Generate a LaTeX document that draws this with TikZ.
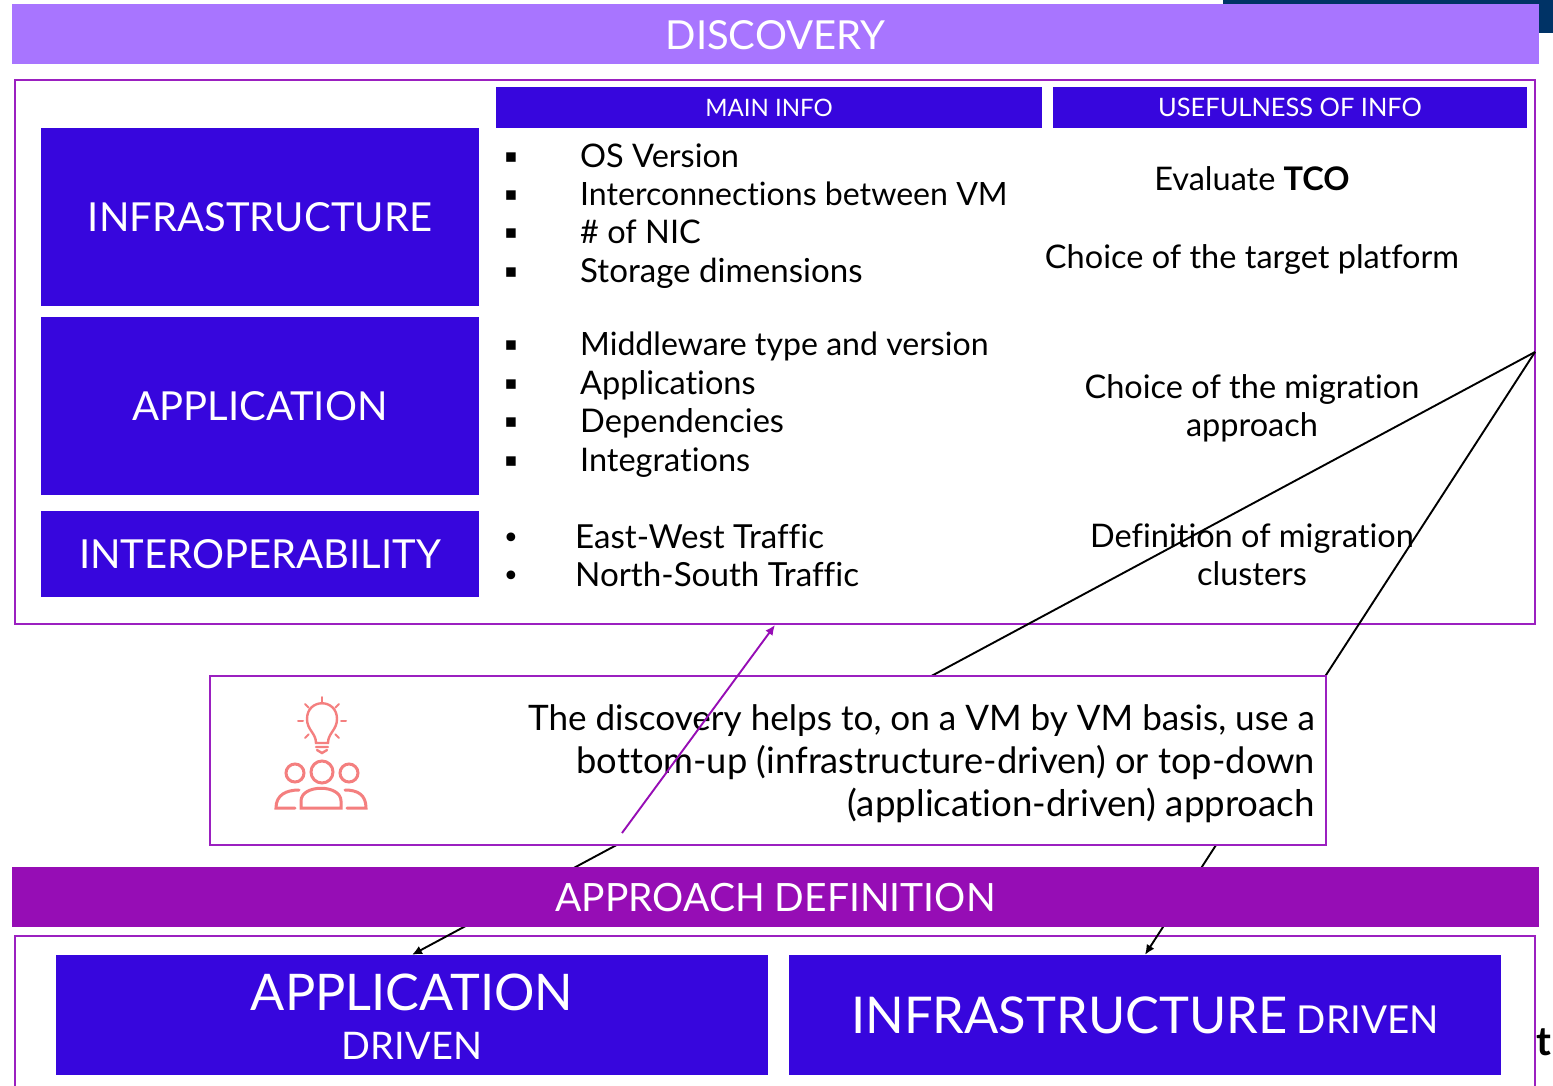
\documentclass[tikz,border=0pt]{standalone}
\usepackage{fontspec}
\usepackage{xcolor}
\usetikzlibrary{arrows.meta}
\setmainfont{Lato}[RawFeature={-liga;-dlig;-clig}]
\newfontfamily\symfont{DejaVu Sans}
\definecolor{barviolet}{HTML}{A875FF}
\definecolor{deepblue}{HTML}{3706DD}
\definecolor{barpurple}{HTML}{960DB5}
\definecolor{framepurple}{HTML}{9B20C0}
\definecolor{navy}{HTML}{003366}
\definecolor{salmon}{HTML}{F47F7F}
\newcommand{\px}[1]{\fontsize{#1}{#1}\selectfont}

\begin{document}
\begin{tikzpicture}[x=1pt, y=-1pt]
    \tikzstyle{bar} = [rectangle, inner sep=0pt, text=white]
    \tikzstyle{block} = [rectangle, fill=deepblue, inner sep=0pt, text=white, align=center]
    \tikzstyle{frame} = [rectangle, draw=framepurple, line width=2pt, inner sep=0pt]
    \tikzstyle{item} = [anchor=base west, inner sep=0pt]
    \tikzstyle{usage} = [anchor=base, inner sep=0pt, font=\px{32.5}]
    \tikzstyle{bullet} = [inner sep=0pt]
    \tikzstyle{icon} = [draw=salmon, line width=2.4pt, line cap=round]
    \tikzstyle{link} = [-{Latex[length=10pt,width=9pt]}, line width=1.9pt]

    \useasboundingbox (0,0) rectangle (1553,1085);
    \clip (0,0) rectangle (1553,1085);

    % header corner
    \node[rectangle, fill=navy, minimum width=330pt, minimum height=33pt, inner sep=0pt] (corner) at (1388,16.5) {};
    \node[bar, fill=barviolet, minimum width=1527pt, minimum height=60pt, font=\px{40}] (discovery) at (775.5,34) {};
    \node[inner sep=0pt, text=white, font=\px{40}] (discoveryword) at (775.5,35) {DISCOVERY};

    % discovery frame
    \node[frame, minimum width=1520pt, minimum height=544pt] (discoveryframe) at (775,352) {};
    \node[block, minimum width=546pt, minimum height=41pt, font=\px{24}] (maininfo) at (769,107.5) {MAIN INFO};
    \node[block, minimum width=474pt, minimum height=41pt, font=\px{25.4}] (usefulness) at (1290,107.5) {USEFULNESS OF INFO};
    \node[block, minimum width=438pt, minimum height=178pt, font=\px{40}] (infrastructure) at (260,217) {INFRASTRUCTURE};
    \node[block, minimum width=438pt, minimum height=178pt, font=\px{40}] (application) at (260,406) {APPLICATION};
    \node[block, minimum width=438pt, minimum height=86pt, font=\px{40}] (interoperability) at (260,554) {INTEROPERABILITY};

    % main info lists
    \foreach \y/\s/\t in {167/32.5/OS Version, 205/32.1/Interconnections between VM, 243/32.5/\# of NIC, 282/33.1/Storage dimensions,
                       355/32.1/Middleware type and version, 394/32.5/Applications, 432/32.6/Dependencies, 471/32.5/Integrations} {
        \node[bullet, font=\symfont\px{19}] (square\y) at (511,\y-9) {▪};
        \node[item, font=\px{\s}] (item\y) at (580,\y+0.5) {\t};
    }
    \foreach \y/\s/\t in {548/33.1/East-West Traffic, 586/33.2/North-South Traffic} {
        \node[bullet, font=\symfont\px{30}] (dot\y) at (511,\y-7) {•};
        \node[item, font=\px{\s}] (item\y) at (575,\y) {\t};
    }

    % usefulness
    \node[usage] (tco) at (1252,190) {Evaluate \textbf{TCO}};
    \node[usage] (platform) at (1252,268) {Choice of the target platform};
    \node[usage] (migration) at (1252,398) {Choice of the migration};
    \node[usage] (approach) at (1252,436) {approach};
    \node[usage] (definition) at (1252,547) {Definition of migration};
    \node[usage] (clusters) at (1252,585.5) {clusters};

    % approach section, bottom
    \draw[draw=framepurple, line width=2pt] (15,1095) |- (1535,936) -- (1535,1095);
    \node[block, minimum width=712pt, minimum height=120pt] (appdriven) at (412,1015) {};
    \node[inner sep=0pt, text=white, font=\px{50.5}] (appword) at (412,992) {APPLICATION};
    \node[inner sep=0pt, text=white, font=\px{38}] (appdrivenword) at (412,1046) {DRIVEN};
    \node[block, minimum width=712pt, minimum height=120pt] (infradriven) at (1145,1015) {};
    \node[inner sep=0pt, anchor=base west, text=white, font=\px{50.7}] (infraword) at (851,1033) {INFRASTRUCTURE};
    \node[inner sep=0pt, anchor=base east, text=white, font=\px{38.5}] (infradrivenword) at (1439,1033) {DRIVEN};
    \node[inner sep=0pt, font=\bfseries\px{40}] (strayt) at (1544,1042) {t};

    % connectors
    \coordinate (apex) at (1535,352);
    \draw[link] (apex) -- (appdriven.north);
    \draw[link] (apex) -- (infradriven.north);

    \node[bar, fill=barpurple, minimum width=1527pt, minimum height=60pt] (approachbar) at (775.5,897) {};
    \node[inner sep=0pt, text=white, font=\px{39}] (approachword) at (775.5,898) {APPROACH DEFINITION};

    % note
    \node[frame, fill=white, minimum width=1116pt, minimum height=169pt] (note) at (768,760) {};
    \node[inner sep=0pt, anchor=base east, font=\px{35.1}] (noteone) at (1315,730) {The discovery helps to, on a VM by VM basis, use a};
    \node[inner sep=0pt, anchor=base east, font=\px{36.3}] (notetwo) at (1315,773) {bottom-up (infrastructure-driven) or top-down};
    \node[inner sep=0pt, anchor=base east, font=\px{36.7}] (notethree) at (1315,816) {(application-driven) approach};

    % bulb and people
    \draw[icon] (316,743) .. controls (316,733) and (307,730) .. (307,719) .. controls (307,698) and (337,698) .. (337,719) .. controls (337,730) and (328,733) .. (328,743) -- cycle;
    \draw[icon] (316,747) -- (328,747) (317,750) -- (322,753) -- (327,750);
    \foreach \a in {0,45,135,180,225,315,270} {
        \draw[icon, line width=2pt] (322,721) ++(\a:19) -- ++(\a:5);
    }
    \draw[icon, line width=3pt] (295,773) circle (9) (322,772) circle (11) (349,773) circle (9);
    \draw[icon, line width=3pt] (301,808) -- (301,801) .. controls (301,784) and (341,784) .. (341,801) -- (341,808) -- cycle;
    \draw[icon, line width=3pt] (299,790) .. controls (286,790) and (276,795) .. (276,808) -- (295,808);
    \draw[icon, line width=3pt] (345,790) .. controls (358,790) and (366,795) .. (366,808) -- (347,808);

    % purple arrow
    \coordinate (notestart) at (622,833);
    \draw[link, draw=barpurple, fill=barpurple] (notestart) -- (discoveryframe.south);
\end{tikzpicture}
\end{document}
